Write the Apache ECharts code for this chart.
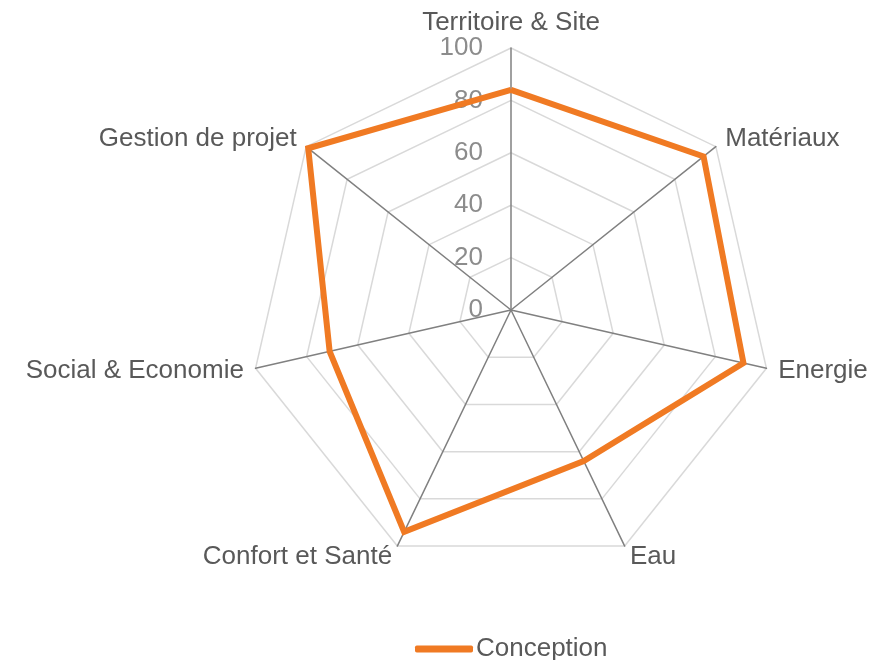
<!DOCTYPE html>
<html>
<head>
<meta charset="utf-8">
<script src="https://cdn.jsdelivr.net/npm/echarts@6/dist/echarts.min.js"></script>
<style>
  html, body { margin: 0; padding: 0; background: #fff; }
  #chart { width: 894px; height: 660px; }
</style>
</head>
<body>
<div id="chart"></div>
<script>
// Radar axes, clockwise from the top
const indicators = ['Territoire & Site', 'Matériaux', 'Energie', 'Eau', 'Confort et Santé', 'Social & Economie', 'Gestion de projet'];
const conception = [84, 94, 91, 64, 94, 71, 99];
const seriesName = 'Conception';
const scaleMax = 100;
const scaleStep = 20;

const FONT = 'Liberation Sans, Arial, sans-serif';
const CENTER = [511, 310];
const RADIUS = 262;

// ECharts lays radar axes out counter-clockwise; keep the first axis at the top
// and reverse the rest so the labels run clockwise.
const order = [0].concat(indicators.map((_, i) => i).slice(1).reverse());
const axisNames = order.map(i => indicators[i]);
const axisValues = order.map(i => conception[i]);

const chart = echarts.init(document.getElementById('chart'));
chart.setOption({
  backgroundColor: '#ffffff',
  animation: false,
  textStyle: { fontFamily: FONT },
  legend: {
    data: [seriesName],
    top: 636,
    left: 415,
    padding: 0,
    icon: 'roundRect',
    itemWidth: 58,
    itemHeight: 7,
    itemGap: 4,
    textStyle: { fontSize: 26, color: '#595959', fontFamily: FONT, padding: [0, 0, 0, -2] }
  },
  radar: {
    center: CENTER,
    radius: RADIUS,
    startAngle: 90,
    shape: 'polygon',
    splitNumber: scaleMax / scaleStep,
    indicator: axisNames.map(n => ({ name: n, min: 0, max: scaleMax })),
    axisName: { color: '#595959', fontSize: 26, fontFamily: FONT },
    nameGap: 12,
    axisLine: { lineStyle: { color: '#808080', width: 1.5 } },
    splitLine: { lineStyle: { color: '#d9d9d9', width: 1.5 } },
    splitArea: { show: false },
    axisTick: { show: false },
    axisLabel: { show: false }
  },
  // Polar system sharing the radar centre, used only to print the scale values
  polar: { center: CENTER, radius: RADIUS },
  angleAxis: { show: false, startAngle: 90, min: 0, max: 360 },
  radiusAxis: {
    min: 0, max: scaleMax, interval: scaleStep,
    axisLine: { show: false },
    axisTick: { show: false },
    splitLine: { show: false },
    axisLabel: { color: '#8c8c8c', fontSize: 26, fontFamily: FONT, margin: 28 }
  },
  series: [{
    name: seriesName,
    type: 'radar',
    symbol: 'none',
    itemStyle: { color: '#f07a23' },
    lineStyle: { color: '#f07a23', width: 6, join: 'miter' },
    data: [{ value: axisValues, name: seriesName }]
  }]
});
</script>
</body>
</html>
